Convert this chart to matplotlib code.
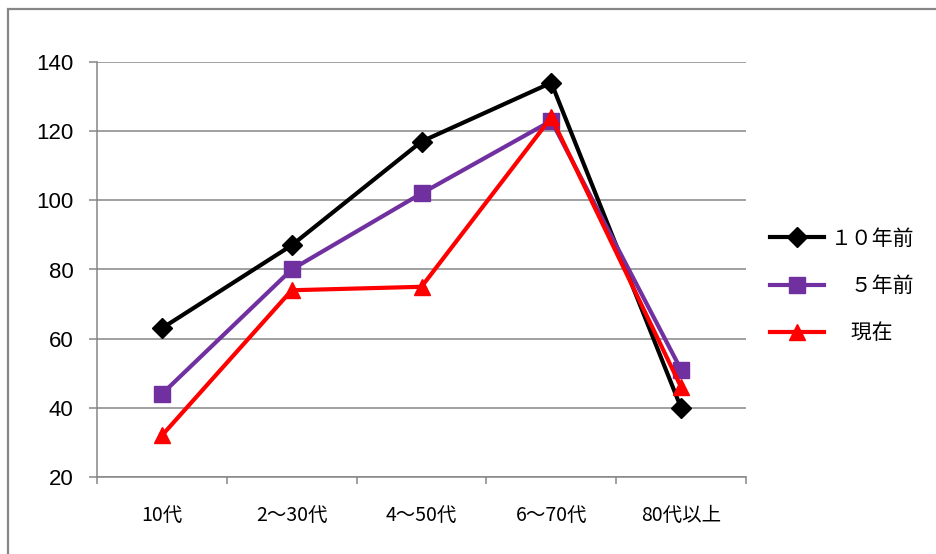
import matplotlib
matplotlib.use("Agg")
import matplotlib.pyplot as plt
from matplotlib.patches import Rectangle

# ============================================================
# Data
# ============================================================

categories = ["10代", "2～30代", "4～50代", "6～70代", "80代以上"]
series_names = ["１０年前", "　５年前", "　現在"]
vals_10y = [63, 87, 117, 134, 40]
vals_5y = [44, 80, 102, 123, 51]
vals_now = [32, 74, 75, 124, 46]

GRID = "#868686"
JP = ["Noto Sans CJK JP", "DejaVu Sans"]

fig = plt.figure(figsize=(9.36, 5.54), dpi=100)
ax = fig.add_axes([97 / 936, 1 - 477 / 554, (746 - 97) / 936, (477 - 62) / 554])

x = list(range(len(categories)))
styles = [
    (vals_10y, "black", "D", 10),
    (vals_5y, "#7030A0", "s", 11),
    (vals_now, "#FF0000", "^", 12),
]
for (vals, color, marker, ms), name in zip(styles, series_names):
    ax.plot(x, vals, color=color, lw=3, marker=marker, ms=ms,
            label=name, clip_on=False, zorder=3)

ax.set_xlim(-0.5, len(categories) - 0.5)
ax.set_ylim(20, 140)
ax.set_yticks(range(20, 141, 20))
ax.grid(axis="y", color=GRID, lw=1.1)
ax.set_axisbelow(True)

for s in ("top", "right"):
    ax.spines[s].set_visible(False)
for s in ("left", "bottom"):
    ax.spines[s].set_color(GRID)
    ax.spines[s].set_linewidth(1.1)

ax.tick_params(axis="y", length=6, width=1.1, color=GRID, pad=11,
               labelsize=16)
for lab in ax.get_yticklabels():
    lab.set_family("Liberation Sans")

# category labels at centres, tick marks at boundaries
ax.set_xticks(x)
ax.set_xticklabels(categories, family=JP, fontsize=14)
ax.tick_params(axis="x", which="major", length=0, pad=20)
ax.set_xticks([i + 0.5 for i in range(-1, len(categories))], minor=True)
ax.tick_params(axis="x", which="minor", length=5, width=1.1, color=GRID)

leg = ax.legend(loc="center left", bbox_to_anchor=(770 / 936, 1 - 286 / 554),
                bbox_transform=fig.transFigure, frameon=False,
                prop={"family": JP, "size": 15}, handlelength=2.6,
                handletextpad=0.3, labelspacing=1.22, borderpad=0,
                borderaxespad=0)

# outer chart border
fig.patches.append(Rectangle((8 / 936, -0.05), 1.0, 1 - 9 / 554 + 0.05,
                             transform=fig.transFigure, fill=False,
                             edgecolor=GRID, lw=1.6))

fig.savefig("out.png", dpi=100)
